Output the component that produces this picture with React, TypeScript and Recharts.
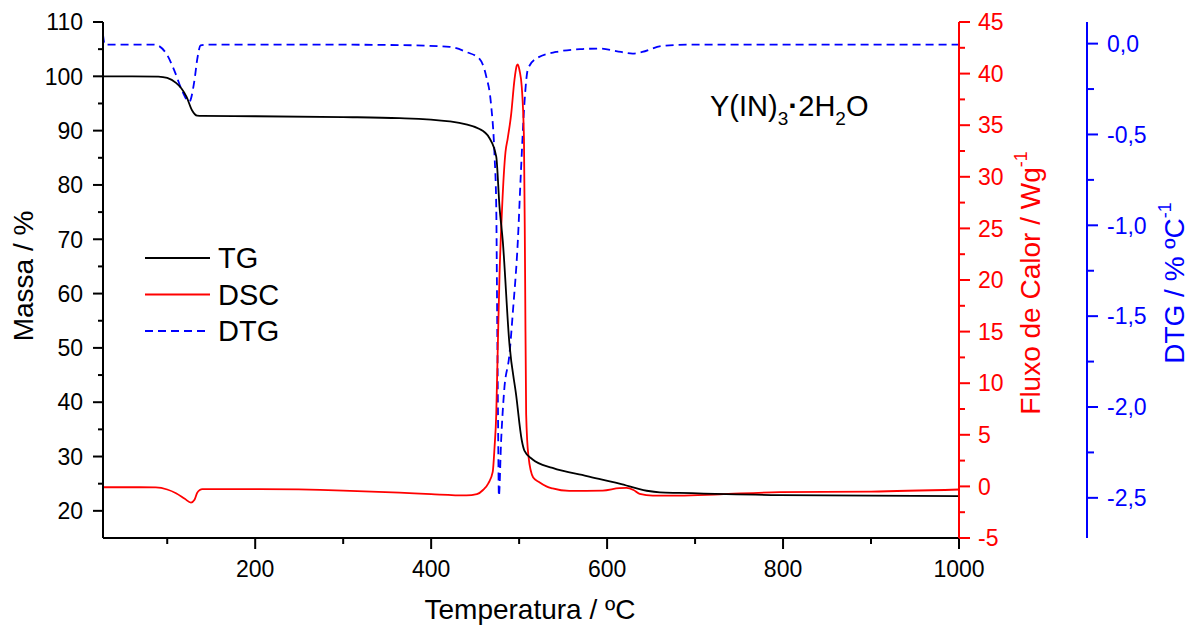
import { Legend, Line, LineChart, XAxis, YAxis } from "recharts";

const FONT = "'Liberation Sans', Arial, Helvetica, sans-serif";

// TG (mass %)
const tgTemp = [27, 60, 90, 100, 110, 116, 122, 128, 134, 140, 200, 300, 364, 421, 455, 466, 474, 477.7, 481.4, 489, 496.7, 503, 506, 515, 538, 577, 614, 645, 660, 682, 796, 1000];
const tgMass = [100, 100, 99.95, 99.7, 98.8, 97.8, 96.2, 93.8, 92.75, 92.7, 92.65, 92.5, 92.3, 91.7, 90.3, 88.7, 85.2, 76, 69.7, 50.7, 41.2, 33, 31.1, 29.5, 27.9, 26.4, 25.0, 23.7, 23.4, 23.3, 22.9, 22.7];

// DSC (heat flow W/g)
const dscTemp = [27, 60, 87, 100, 110, 120, 127, 131, 134, 137, 140, 205, 300, 364, 400, 440, 452, 459, 465, 470, 472, 474, 475.8, 477.7, 480.7, 484.5, 487, 491, 494.7, 497.4, 498.5, 500.5, 503, 505.5, 506.8, 508, 510.5, 516, 523, 531, 538, 557, 595, 614, 622, 630, 637, 652, 682, 728, 796, 900, 1000];
const dscFlow = [-0.08, -0.08, -0.1, -0.3, -0.66, -1.2, -1.57, -1.3, -0.63, -0.35, -0.27, -0.27, -0.4, -0.6, -0.75, -0.87, -0.75, -0.35, 0.3, 1.4, 3.7, 7.0, 13.7, 20.4, 27.1, 32.4, 33.7, 36.1, 39.4, 40.8, 40.9, 40.3, 38.7, 33.7, 20.4, 7.0, 3.0, 0.86, 0.4, 0.0, -0.2, -0.44, -0.4, -0.17, -0.15, -0.35, -0.73, -0.89, -0.89, -0.76, -0.56, -0.5, -0.3];

// DTG (%/°C)
const dtgTemp = [27, 29, 60, 85, 99, 108, 117, 125, 131, 134, 138, 145, 250, 364, 421, 440, 455, 462.6, 468, 472, 474, 475, 476, 477, 479.5, 483, 489, 493, 498.5, 502, 506, 510, 519, 542, 572, 591, 616, 629, 640, 662, 697, 800, 1000];
const dtgRate = [0.05, -0.005, -0.005, -0.005, -0.055, -0.147, -0.26, -0.32, -0.2, -0.09, -0.01, -0.005, -0.005, -0.008, -0.018, -0.046, -0.084, -0.18, -0.33, -0.61, -0.9, -1.47, -2.04, -2.49, -2.19, -1.91, -1.71, -1.47, -1.09, -0.71, -0.33, -0.14, -0.084, -0.046, -0.03, -0.027, -0.046, -0.055, -0.046, -0.013, -0.005, -0.005, -0.005];

const tempTicks = [100, 200, 300, 400, 500, 600, 700, 800, 900, 1000];
const massTicks = [20, 25, 30, 35, 40, 45, 50, 55, 60, 65, 70, 75, 80, 85, 90, 95, 100, 105, 110];
const dscTicks = [-5, -2.5, 0, 2.5, 5, 7.5, 10, 12.5, 15, 17.5, 20, 22.5, 25, 27.5, 30, 32.5, 35, 37.5, 40, 42.5, 45];
const dtgTicks = [0, -0.25, -0.5, -0.75, -1, -1.25, -1.5, -1.75, -2, -2.25, -2.5];

const legendItems = [
  { name: "TG", color: "#000000", dash: undefined as string | undefined },
  { name: "DSC", color: "#ff0000", dash: undefined as string | undefined },
  { name: "DTG", color: "#0000ff", dash: "8 5" },
];

const rows = (temps: number[], vals: number[]) => temps.map((t, i) => ({ t, v: vals[i] }));
const tgData = rows(tgTemp, tgMass);
const dscData = rows(dscTemp, dscFlow);
const dtgData = rows(dtgTemp, dtgRate);

const isMajor = (v: number, step: number) => Math.abs(v / step - Math.round(v / step)) < 1e-6;

function TempTick({ x, y, payload }: any) {
  const major = isMajor(payload.value, 200);
  return (
    <g>
      <line x1={x} x2={x} y1={y} y2={y + (major ? 11 : 6)} stroke="#000" strokeWidth={2} />
      {major && (
        <text x={x} y={y + 39} textAnchor="middle" fontSize={23} fontFamily={FONT} fill="#000">
          {payload.value}
        </text>
      )}
    </g>
  );
}

function MassTick({ x, y, payload }: any) {
  const major = isMajor(payload.value, 10);
  return (
    <g>
      <line x1={x} x2={x - (major ? 10 : 5)} y1={y} y2={y} stroke="#000" strokeWidth={2} />
      {major && (
        <text x={x - 20} y={y} dy="0.36em" textAnchor="end" fontSize={23} fontFamily={FONT} fill="#000">
          {payload.value}
        </text>
      )}
    </g>
  );
}

function DscTick({ x, y, payload }: any) {
  const major = isMajor(payload.value, 5);
  return (
    <g>
      <line x1={x} x2={x + (major ? 11 : 6)} y1={y} y2={y} stroke="#ff0000" strokeWidth={2} />
      {major && (
        <text x={x + 19} y={y} dy="0.36em" textAnchor="start" fontSize={23} fontFamily={FONT} fill="#ff0000">
          {payload.value}
        </text>
      )}
    </g>
  );
}

function DtgTick({ x, y, payload }: any) {
  const major = isMajor(payload.value, 0.5);
  const v = Math.abs(payload.value) < 1e-9 ? 0 : payload.value;
  return (
    <g>
      <line x1={x} x2={x + (major ? 11 : 7)} y1={y} y2={y} stroke="#0000ff" strokeWidth={2} />
      {major && (
        <text x={x + 20} y={y} dy="0.36em" textAnchor="start" fontSize={23} fontFamily={FONT} fill="#0000ff">
          {v.toFixed(1).replace(".", ",")}
        </text>
      )}
    </g>
  );
}

function LegendBox() {
  return (
    <svg width={170} height={115}>
      {legendItems.map((item, i) => {
        const y = 23 + i * 36.5;
        return (
          <g key={item.name}>
            <line x1={5} x2={70} y1={y} y2={y} stroke={item.color} strokeWidth={1.8} strokeDasharray={item.dash} />
            <text x={78} y={y + 10} fontSize={29} fontFamily={FONT} fill="#000">
              {item.name}
            </text>
          </g>
        );
      })}
    </svg>
  );
}

export default function App() {
  return (
    <div style={{ position: "absolute", left: 0, top: 0, width: 1195, height: 630, background: "#fff" }}>
      <LineChart width={1195} height={630} margin={{ top: 22, right: 0, bottom: 0, left: 0 }}>
        <XAxis
          xAxisId="x"
          type="number"
          dataKey="t"
          domain={[27, 1000]}
          allowDataOverflow
          ticks={tempTicks}
          tick={<TempTick />}
          tickLine={false}
          tickSize={0}
          tickMargin={0}
          height={92}
          axisLine={{ stroke: "#000", strokeWidth: 2 }}
        />
        <XAxis
          xAxisId="top"
          orientation="top"
          type="number"
          dataKey="t"
          domain={[27, 1000]}
          allowDataOverflow
          tick={false}
          tickLine={false}
          height={0}
          axisLine={{ stroke: "#000", strokeWidth: 2 }}
        />
        <YAxis
          yAxisId="mass"
          type="number"
          domain={[15, 110]}
          allowDataOverflow
          ticks={massTicks}
          tick={<MassTick />}
          tickLine={false}
          tickSize={0}
          tickMargin={0}
          width={103}
          axisLine={{ stroke: "#000", strokeWidth: 2 }}
        />
        <YAxis
          yAxisId="dsc"
          orientation="right"
          type="number"
          domain={[-5, 45]}
          allowDataOverflow
          ticks={dscTicks}
          tick={<DscTick />}
          tickLine={false}
          tickSize={0}
          tickMargin={0}
          width={128}
          axisLine={{ stroke: "#ff0000", strokeWidth: 2 }}
        />
        <YAxis
          yAxisId="dtg"
          orientation="right"
          type="number"
          domain={[-2.721, 0.119]}
          allowDataOverflow
          ticks={dtgTicks}
          tick={<DtgTick />}
          tickLine={false}
          tickSize={0}
          tickMargin={0}
          width={108}
          axisLine={{ stroke: "#0000ff", strokeWidth: 2 }}
        />
        <Legend
          layout="vertical"
          align="center"
          verticalAlign="middle"
          content={<LegendBox />}
          wrapperStyle={{ left: 140, top: 235, width: 170, height: 115 }}
        />
        <Line
          xAxisId="x"
          yAxisId="dtg"
          data={dtgData}
          dataKey="v"
          name="DTG"
          type="monotone"
          stroke="#0000ff"
          strokeWidth={1.8}
          strokeDasharray="8 5"
          dot={false}
          activeDot={false}
          isAnimationActive={false}
        />
        <Line
          xAxisId="x"
          yAxisId="dsc"
          data={dscData}
          dataKey="v"
          name="DSC"
          type="monotone"
          stroke="#ff0000"
          strokeWidth={1.8}
          dot={false}
          activeDot={false}
          isAnimationActive={false}
        />
        <Line
          xAxisId="x"
          yAxisId="mass"
          data={tgData}
          dataKey="v"
          name="TG"
          type="monotone"
          stroke="#000000"
          strokeWidth={1.8}
          dot={false}
          activeDot={false}
          isAnimationActive={false}
        />
      </LineChart>
      <svg
        width={1195}
        height={630}
        style={{ position: "absolute", left: 0, top: 0, pointerEvents: "none" }}
        fontFamily={FONT}
      >
        <text transform="translate(33,276) rotate(-90)" textAnchor="middle" fontSize={28} fill="#000">
          Massa / %
        </text>
        <text x={530} y={619} textAnchor="middle" fontSize={28} fill="#000">
          Temperatura / ºC
        </text>
        <text transform="translate(1040,283) rotate(-90)" textAnchor="middle" fontSize={28} fill="#ff0000">
          Fluxo de Calor / Wg
          <tspan dy={-13} fontSize={18}>-1</tspan>
        </text>
        <text transform="translate(1184,283) rotate(-90)" textAnchor="middle" fontSize={28} fill="#0000ff">
          DTG / % ºC
          <tspan dy={-13} fontSize={18}>-1</tspan>
        </text>
        <text x={710} y={116} fontSize={29} fill="#000">
          Y(IN)
          <tspan dy={9} fontSize={19}>3</tspan>
          <tspan dy={-9} fontWeight="bold" fontSize={30}>·</tspan>
          <tspan>2H</tspan>
          <tspan dy={9} fontSize={19}>2</tspan>
          <tspan dy={-9}>O</tspan>
        </text>
      </svg>
    </div>
  );
}
